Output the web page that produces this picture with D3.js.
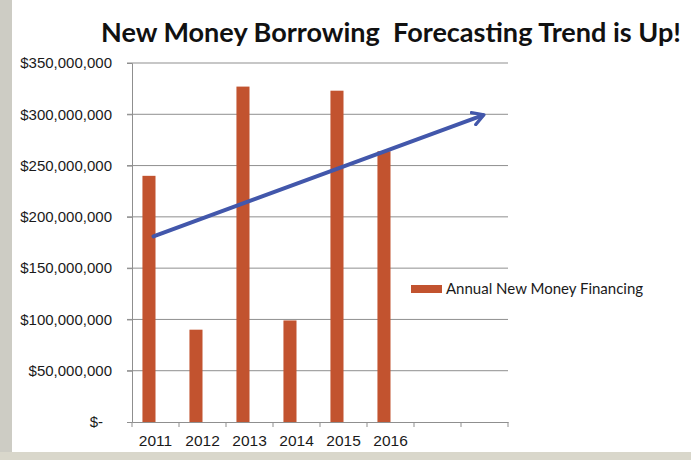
<!DOCTYPE html>
<html>
<head>
<meta charset="utf-8">
<script src="https://cdn.jsdelivr.net/npm/d3@7.9.0/dist/d3.min.js"></script>
<style>
  html, body { margin: 0; padding: 0; background: #fff; }
  svg { display: block; font-family: Lato, "Open Sans", sans-serif; }
</style>
</head>
<body>
<div id="chart"></div>
<script>
const years = ['2011', '2012', '2013', '2014', '2015', '2016', '2017', '2018'];
const yearLabels = ['2011', '2012', '2013', '2014', '2015', '2016', '', ''];
const financing = [
  { year: '2011', value: 240e6 },
  { year: '2012', value: 90e6 },
  { year: '2013', value: 327e6 },
  { year: '2014', value: 99e6 },
  { year: '2015', value: 323e6 },
  { year: '2016', value: 264e6 },
];
const trend = [
  { year: '2011', value: 181e6 },
  { year: '2018', value: 299e6 },
];
const yTicks = [0, 50e6, 100e6, 150e6, 200e6, 250e6, 300e6, 350e6];
const seriesName = 'Annual New Money Financing';
const title = 'New Money Borrowing  Forecasting Trend is Up!';

const width = 691;
const height = 460;
const plot = { left: 132, right: 508, top: 63, bottom: 422 };

const svg = d3.select('#chart')
  .append('svg')
  .attr('width', width)
  .attr('height', height);

// scanned-slide frame
svg.append('rect').attr('x', 0).attr('y', 0).attr('width', width).attr('height', height).attr('fill', '#fff');
svg.append('rect').attr('x', 0).attr('y', 0).attr('width', 12).attr('height', height).attr('fill', '#cdccc4');
svg.append('rect').attr('x', 0).attr('y', 452).attr('width', width).attr('height', 8).attr('fill', '#d9d7cb');

const x = d3.scaleBand()
  .domain(years)
  .range([plot.left, plot.right]);

const xSub = d3.scaleBand()
  .domain([seriesName, 'spacer'])
  .range([0, x.bandwidth()])
  .paddingOuter(0.8);

const y = d3.scaleLinear()
  .domain([0, 350e6])
  .range([plot.bottom, plot.top]);

// gridlines
svg.append('g')
  .attr('class', 'grid')
  .selectAll('line')
  .data(yTicks.slice(1))
  .join('line')
  .attr('x1', plot.left - 5)
  .attr('x2', plot.right)
  .attr('y1', d => y(d))
  .attr('y2', d => y(d))
  .attr('stroke', '#8f8f8f')
  .attr('stroke-width', 1);

// y axis
const yAxis = svg.append('g')
  .attr('transform', `translate(${plot.left},0)`)
  .call(d3.axisLeft(y)
    .tickValues(yTicks)
    .tickSize(5)
    .tickPadding(15)
    .tickFormat(d => d === 0 ? '$-' : '$' + d3.format(',')(d)));
yAxis.select('.domain').attr('stroke', '#8f8f8f');
yAxis.selectAll('.tick line').attr('stroke', '#8f8f8f');
yAxis.selectAll('text')
  .attr('fill', '#1a1a1a')
  .style('font-size', '15px')
  .attr('dx', d => d === 0 ? -9 : 0);

// bars
svg.append('g')
  .selectAll('rect')
  .data(financing)
  .join('rect')
  .attr('x', d => x(d.year) + xSub(seriesName))
  .attr('y', d => y(d.value))
  .attr('width', xSub.bandwidth())
  .attr('height', d => y(0) - y(d.value))
  .attr('fill', '#c2532f');

// x axis
const xAxis = svg.append('g')
  .attr('transform', `translate(0,${plot.bottom})`)
  .call(d3.axisBottom(x)
    .tickSize(0)
    .tickPadding(13)
    .tickFormat((d, i) => yearLabels[i]));
xAxis.select('.domain').attr('stroke', '#8f8f8f');
xAxis.selectAll('text').attr('fill', '#1a1a1a').style('font-size', '15.5px');
xAxis.append('g')
  .selectAll('line')
  .data(years.concat(['end']))
  .join('line')
  .attr('x1', d => d === 'end' ? plot.right : x(d))
  .attr('x2', d => d === 'end' ? plot.right : x(d))
  .attr('y1', 0)
  .attr('y2', 5)
  .attr('stroke', '#8f8f8f');

// trend arrow
svg.append('defs').append('marker')
  .attr('id', 'arrow')
  .attr('viewBox', '0 0 10 10')
  .attr('refX', 7)
  .attr('refY', 5)
  .attr('markerWidth', 4)
  .attr('markerHeight', 4)
  .attr('orient', 'auto')
  .append('path')
  .attr('d', 'M1,1 L8,5 L1,9')
  .attr('fill', 'none')
  .attr('stroke', '#4257ab')
  .attr('stroke-width', 2)
  .attr('stroke-linecap', 'round')
  .attr('stroke-linejoin', 'round');

svg.append('path')
  .datum(trend)
  .attr('d', d3.line()
    .x(d => x(d.year) + x.bandwidth() / 2 - 2)
    .y(d => y(d.value)))
  .attr('fill', 'none')
  .attr('stroke', '#4257ab')
  .attr('stroke-width', 4)
  .attr('stroke-linecap', 'round')
  .attr('marker-end', 'url(#arrow)');

// legend
const legend = svg.append('g').attr('transform', 'translate(411,285)');
legend.append('rect').attr('width', 31).attr('height', 8).attr('fill', '#c2532f');
legend.append('text')
  .attr('x', 35)
  .attr('y', 9)
  .attr('fill', '#1a1a1a')
  .style('font-size', '15px')
  .text(seriesName);

// title, sized so it spans roughly x 101..683 like the slide
const titleText = svg.append('text')
  .attr('x', 101)
  .attr('y', 42)
  .attr('fill', '#111')
  .style('font-size', '30px')
  .style('font-weight', 'bold')
  .style('white-space', 'pre')
  .text(title);
const natural = titleText.node().getComputedTextLength();
titleText.style('font-size', Math.min(32, 30 * 580 / natural) + 'px');
</script>
</body>
</html>
